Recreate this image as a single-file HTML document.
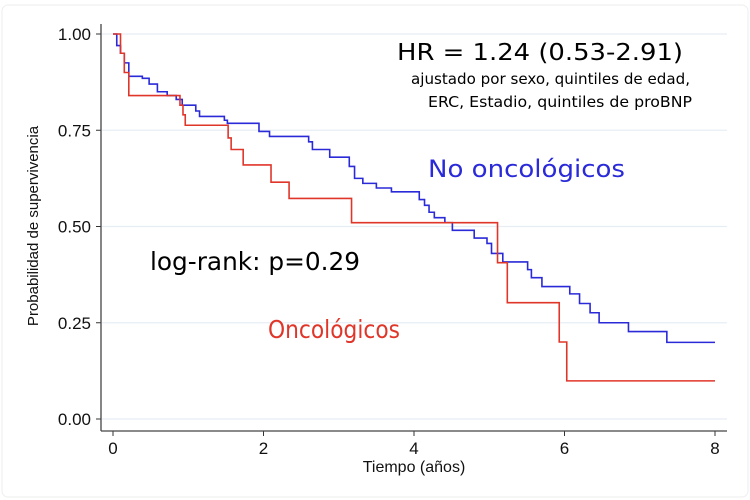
<!DOCTYPE html>
<html><head><meta charset="utf-8"><style>
html,body{margin:0;padding:0;background:#fff;}
svg{display:block;font-family:"Liberation Sans",Arial,sans-serif;}
.ann{font-family:"DejaVu Sans","Liberation Sans",sans-serif;}
</style></head><body>
<svg id="chart" width="750" height="500" viewBox="0 0 750 500">
<rect x="2" y="5" width="746" height="492" rx="6" fill="#fff" stroke="#eeeeee"/>
<g id="grid"></g>
<g id="axes"></g>
<g id="series"></g>
<text x="38" y="226" transform="rotate(-90 38 226)" text-anchor="middle" font-size="15" fill="#111">Probabilidad de supervivencia</text>
<text x="414" y="472" text-anchor="middle" font-size="16" fill="#111">Tiempo (años)</text>
<text class="ann" x="397" y="60" textLength="286" lengthAdjust="spacingAndGlyphs" font-size="23" fill="#000">HR = 1.24 (0.53-2.91)</text>
<text class="ann" x="411" y="84" textLength="279" lengthAdjust="spacingAndGlyphs" font-size="15" fill="#000">ajustado por sexo, quintiles de edad,</text>
<text class="ann" x="428" y="107" textLength="264" lengthAdjust="spacingAndGlyphs" font-size="15" fill="#000">ERC, Estadio, quintiles de proBNP</text>
<text class="ann" x="428" y="177" textLength="197" lengthAdjust="spacingAndGlyphs" font-size="24" fill="#2a2ad8">No oncológicos</text>
<text class="ann" x="150" y="270" textLength="210" lengthAdjust="spacingAndGlyphs" font-size="25" fill="#000">log-rank: p=0.29</text>
<text class="ann" x="268" y="338" textLength="132" lengthAdjust="spacingAndGlyphs" font-size="25" fill="#e0362a">Oncológicos</text>
</svg>
<script>
const yTicks=[0,0.25,0.5,0.75,1];
const yTickLabels=["0.00","0.25","0.50","0.75","1.00"];
const xTicks=[0,2,4,6,8];
const xTickLabels=["0","2","4","6","8"];
const redTimes=[0,0.1,0.15,0.21,0.89,0.93,0.96,1.53,1.57,1.73,2.1,2.34,3.17,5.11,5.24,5.93,6.03,8];
const redSurv=[1,0.95,0.9,0.84,0.815,0.79,0.763,0.73,0.70,0.66,0.615,0.573,0.51,0.406,0.302,0.20,0.099,0.099];
const blueTimes=[0,0.05,0.1,0.15,0.21,0.39,0.48,0.59,0.72,0.84,0.92,1.1,1.15,1.48,1.52,1.94,2.08,2.6,2.65,2.88,3.14,3.21,3.32,3.5,3.7,4.07,4.14,4.2,4.27,4.41,4.51,4.8,4.97,5.03,5.18,5.51,5.56,5.7,6.07,6.2,6.34,6.46,6.85,7.36,8];
const blueSurv=[1,0.97,0.95,0.925,0.89,0.885,0.87,0.85,0.84,0.83,0.815,0.80,0.786,0.776,0.768,0.747,0.734,0.72,0.70,0.68,0.656,0.625,0.612,0.60,0.59,0.57,0.555,0.537,0.523,0.51,0.49,0.47,0.456,0.43,0.408,0.388,0.367,0.344,0.325,0.30,0.276,0.25,0.227,0.199,0.199];
const NS="http://www.w3.org/2000/svg";
const X=t=>113+t*(715-113)/8;
const Y=s=>419-s*(419-34);
function mk(tag,attrs,parent){const e=document.createElementNS(NS,tag);for(const k in attrs)e.setAttribute(k,attrs[k]);parent.appendChild(e);return e;}
const grid=document.getElementById('grid'),axes=document.getElementById('axes'),series=document.getElementById('series');
yTicks.forEach((v,i)=>{
  const g=mk('line',{x1:102,x2:727,y1:Y(v),y2:Y(v),stroke:'#e6eef4','stroke-width':1.2},grid);
  
  
  const t=mk('line',{x1:96,x2:101,y1:Y(v),y2:Y(v),stroke:'#333'},axes);
  
  
  const l=mk('text',{x:91,y:Y(v)+6,'text-anchor':'end','font-size':17,fill:'#111'},axes);
  l.textContent=yTickLabels[i];
  
  
});
xTicks.forEach((v,i)=>{
  const t=mk('line',{x1:X(v),x2:X(v),y1:431,y2:436,stroke:'#333'},axes);
  
  
  const l=mk('text',{x:X(v),y:454,'text-anchor':'middle','font-size':17,fill:'#111'},axes);
  l.textContent=xTickLabels[i];
  
  
});
const ya=mk('line',{x1:101,x2:101,y1:24,y2:431,stroke:'#444','stroke-width':1.3},axes);


const xa=mk('line',{x1:101,x2:727,y1:431,y2:431,stroke:'#444','stroke-width':1.3},axes);


function stepPath(ts,ss){let d='M'+X(ts[0])+','+Y(ss[0]);for(let i=1;i<ts.length;i++){d+=' H'+X(ts[i])+' V'+Y(ss[i]);}return d;}
const pb=mk('path',{d:stepPath(blueTimes,blueSurv),fill:'none',stroke:'#2a2ad8','stroke-width':1.6},series);


const pr=mk('path',{d:stepPath(redTimes,redSurv),fill:'none',stroke:'#e0362a','stroke-width':1.6},series);


</script>
</body></html>
